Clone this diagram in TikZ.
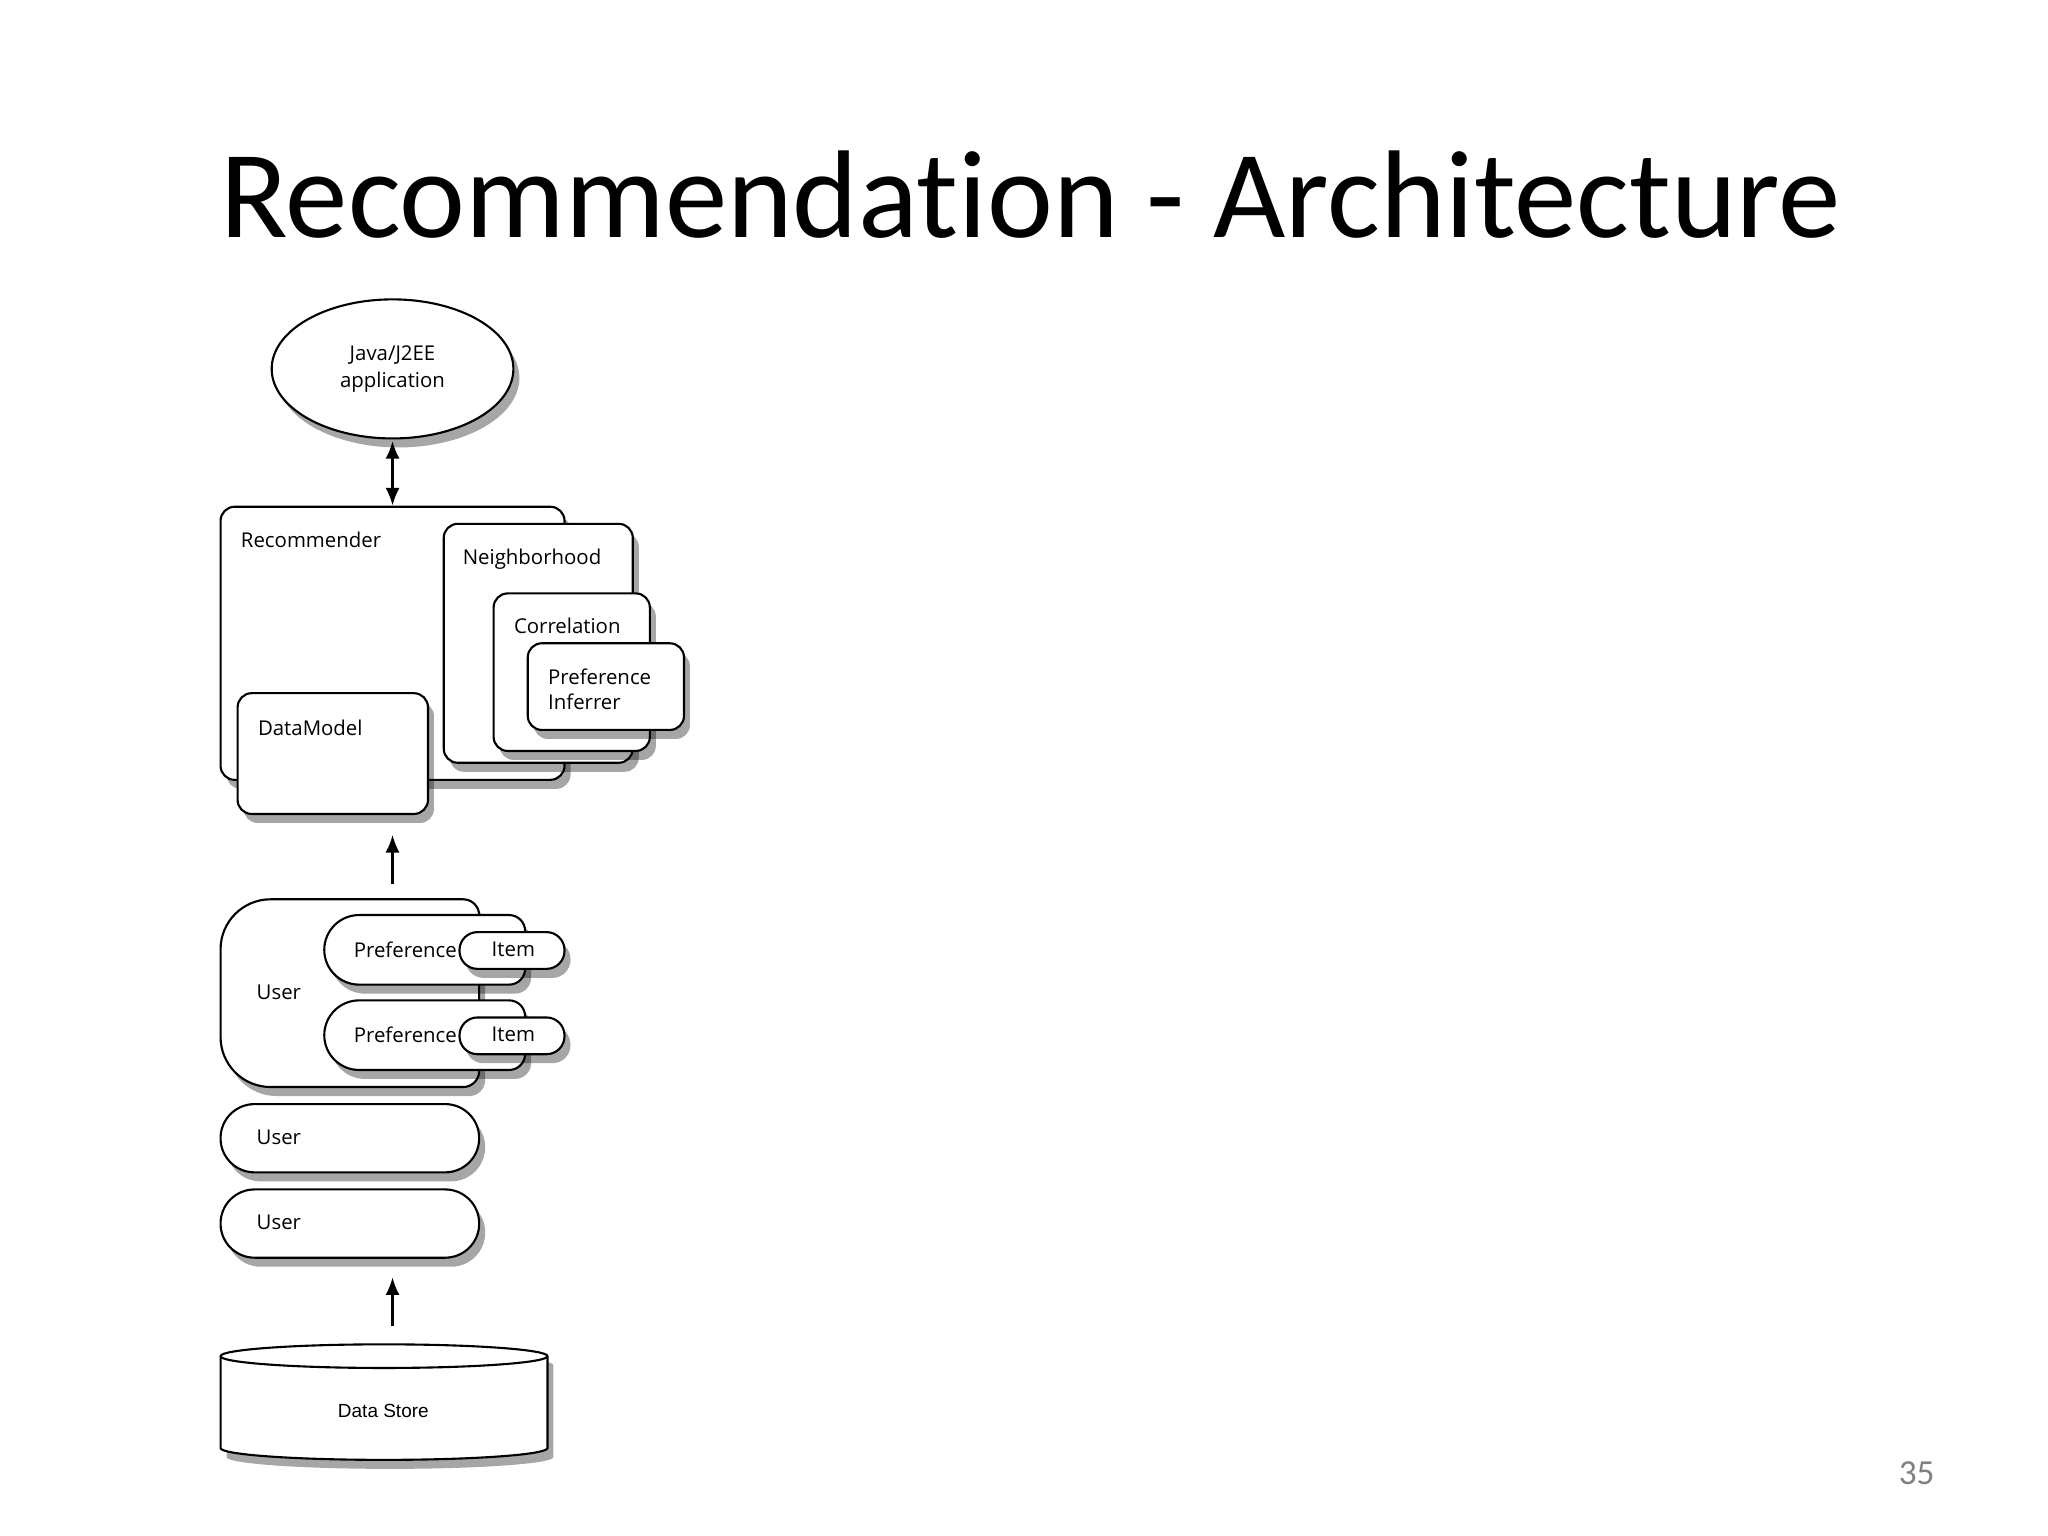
\documentclass[tikz,border=0pt]{standalone}
\usepackage{fontspec}
\setmainfont{Carlito}[Ligatures=NoCommon]
\newfontfamily\lab{Open Sans}
\newfontfamily\labb{Liberation Sans}
\usetikzlibrary{shadows,fit,shapes.geometric,arrows.meta}
\begin{document}
\begin{tikzpicture}[x=0.013128cm,y=-0.013128cm,
  shad/.style={drop shadow={shadow xshift=0.6mm,shadow yshift=-0.9mm,opacity=0.35,fill=black}},
  box/.style={draw,fill=white,rounded corners=4pt,line width=0.6pt,inner sep=0pt,shad},
  lbl/.style={font=\lab\fontsize{5.8}{7}\selectfont,anchor=north west,inner sep=0pt,align=left},
  arr/.style={-{Latex[length=5pt,width=4pt]},line width=0.6pt},
  pth/.style={draw,fill=white,line width=0.6pt,shad}]
\useasboundingbox (0,0) rectangle (1560,1170);
\fill[white] (0,0) rectangle (1560,1170);
\node[font=\fontsize{35.5}{40}\selectfont] (title) at (785,148) {Recommendation - Architecture};
\node[font=\fontsize{10}{12}\selectfont,text=gray] (pg) at (1460,1122) {35};
% ellipse
\node[draw,fill=white,ellipse,minimum width=2.416cm,minimum height=1.39cm,line width=0.6pt,shad,
  inner sep=0pt] (app) at (299,281) {};
\node[font=\lab\fontsize{5.8}{7.5}\selectfont,align=center] (applbl) at (299,281) {Java/J2EE\\application};
% recommender
\node[box,fit={(168,386)(430,594)}] (rec) {};
\node[lbl] (reclbl) at (183,405) {Recommender};
\node[box,fit={(338,399)(482,581)}] (nb) {};
\node[lbl] (nblbl) at (352,418) {Neighborhood};
\node[box,fit={(376,452)(495,572)}] (cor) {};
\node[lbl] (corlbl) at (391,470) {Correlation};
\node[box,fit={(402,490)(521,556)}] (pi) {};
\node[lbl] (pilbl) at (417,509) {Preference\\Inferrer};
\node[box,fit={(181,528)(326,620)}] (dm) {};
\node[lbl] (dmlbl) at (196,548) {DataModel};
\coordinate (a1) at (299,336);
\coordinate (a2) at (299,385);
\draw[{Latex[length=5pt,width=4pt]}-{Latex[length=5pt,width=4pt]},line width=0.6pt] (a1) -- (a2);
% user block
\path[pth] (260,685) [rounded corners=0.16cm] -- (365,685) -- (365,828) [rounded corners=0.5cm] -- (168,828) -- (168,685) -- cycle;
\node[lbl] (u1) at (195,750) {User};
\foreach \yy/\nm in {697/p1,762/p2}{
  \path[pth] (330,\yy) [rounded corners=0.16cm] -- (400,\yy) -- (400,\yy+53) [rounded corners=0.348cm] -- (247,\yy+53) -- (247,\yy) -- cycle;
  \node[lbl] (\nm) at (269,\yy+20) {Preference};
  \path[pth] (390,\yy+13) [rounded corners=0.18cm] -- (430,\yy+13) -- (430,\yy+41) -- (350,\yy+41) -- (350,\yy+13) -- cycle;
  \node[lbl] (\nm i) at (374,\yy+20) {Item};
}
\foreach \yy/\nm in {841/u2,906/u3}{
  \path[pth] (260,\yy) [rounded corners=0.34cm] -- (365,\yy) -- (365,\yy+52) -- (168,\yy+52) -- (168,\yy) -- cycle;
  \node[lbl] (\nm) at (195,\yy+19) {User};
}
\coordinate (b1) at (299,673); \coordinate (b2) at (299,636);
\draw[arr] (b1) -- (b2);
\coordinate (c1) at (299,1010); \coordinate (c2) at (299,973);
\draw[arr] (c1) -- (c2);
% cylinder
\path[pth] (168,1033) -- (168,1103) arc[start angle=180,end angle=0,x radius=124.5,y radius=9] -- (417,1033)
  arc[start angle=360,end angle=180,x radius=124.5,y radius=9] -- cycle;
\draw[line width=0.6pt] (168,1033) arc[start angle=180,end angle=0,x radius=124.5,y radius=9];
\node[font=\labb\fontsize{5.4}{7}\selectfont] (ds) at (292,1075) {Data Store};
\end{tikzpicture}
\end{document}
